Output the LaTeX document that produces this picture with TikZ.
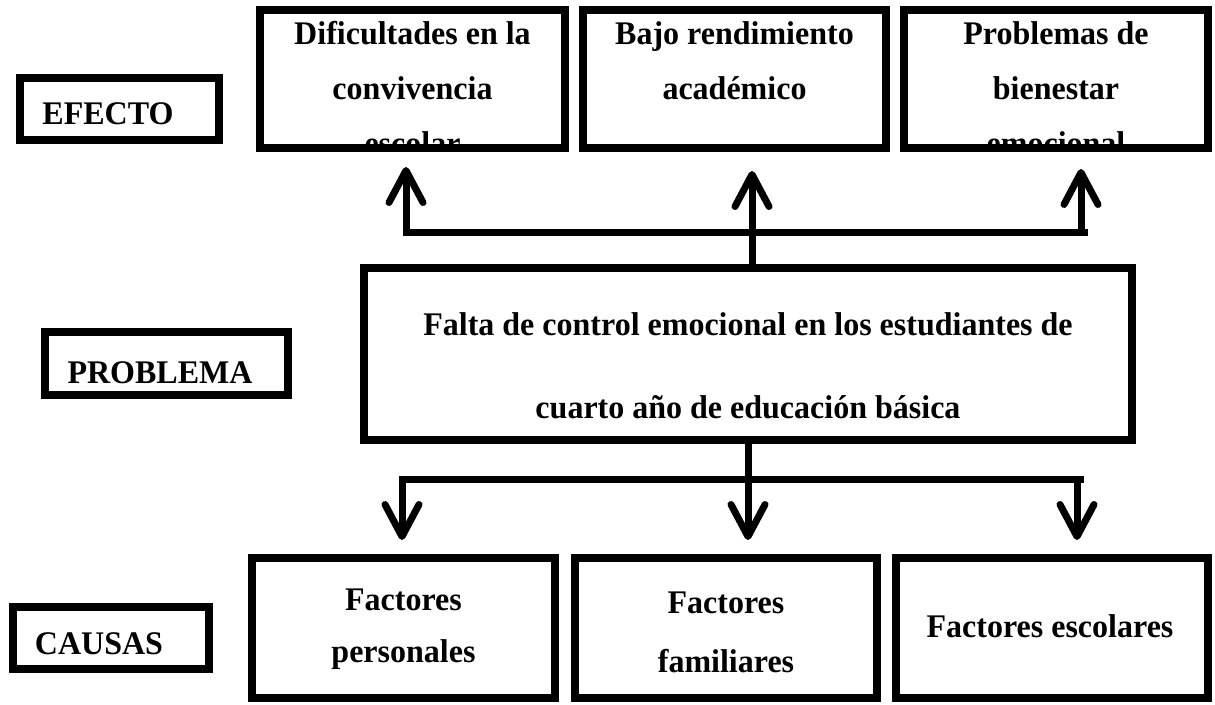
\documentclass[tikz,border=0pt]{standalone}
\usepackage{fontspec}
\setmainfont{Liberation Serif}[FakeStretch=0.97]
\usetikzlibrary{arrows.meta}
\tikzset{
  box/.style={draw, line width=8pt, rectangle, inner sep=0pt},
  txt/.style={font=\bfseries\fontsize{33}{55}\selectfont, align=center, inner sep=0pt},
  conn/.style={line width=7pt},
  arr/.style={conn, -{Straight Barb[length=32pt,width=34pt,round]}}
}
\begin{document}
\begin{tikzpicture}[x=1pt,y=-1pt]
\useasboundingbox (0,0) rectangle (1215,704);
% label boxes
\node[box, minimum width=199pt, minimum height=62pt] (lefecto) at (119.5,109) {};
\node[txt, anchor=base] (tefecto) at (108,124) {EFECTO};
\node[box, minimum width=243pt, minimum height=63pt] (lproblema) at (166.5,363.5) {};
\node[txt, anchor=base] (tproblema) at (160,383) {PROBLEMA};
\node[box, minimum width=196pt, minimum height=62pt] (lcausas) at (111,638) {};
\node[txt, anchor=base] (tcausas) at (99,654) {CAUSAS};
% effect boxes
\node[box, minimum width=305pt, minimum height=138pt] (e1) at (412.5,79) {};
\node[box, minimum width=303pt, minimum height=138pt] (e2) at (734.5,79) {};
\node[box, minimum width=304pt, minimum height=138pt] (e3) at (1056,79) {};
\begin{scope}
\clip (264,14) rectangle (561,144);
\node[txt, anchor=north] (te1) at (412.5,21) {Dificultades en la\\convivencia\\escolar};
\end{scope}
\begin{scope}
\clip (587,14) rectangle (882,144);
\node[txt, anchor=north] (te2) at (734.5,21) {Bajo rendimiento\\académico};
\end{scope}
\begin{scope}
\clip (908,14) rectangle (1204,144);
\node[txt, anchor=north] (te3) at (1056,21) {Problemas de\\bienestar\\emocional};
\end{scope}
% problem box
\node[box, minimum width=768pt, minimum height=172pt] (prob) at (748,354) {};
\node[txt, anchor=north, font=\bfseries\fontsize{33}{83}\selectfont] (tprob) at (748,312)
  {Falta de control emocional en los estudiantes de\\cuarto año de educación básica};
% cause boxes
\node[box, minimum width=303pt, minimum height=140pt] (c1) at (403.5,628) {};
\node[txt, anchor=north, font=\bfseries\fontsize{33}{52}\selectfont] (tc1) at (403.5,589) {Factores\\personales};
\node[box, minimum width=302pt, minimum height=140pt] (c2) at (726,628) {};
\node[txt, anchor=north, font=\bfseries\fontsize{33}{59}\selectfont] (tc2) at (726,592) {Factores\\familiares};
\node[box, minimum width=312pt, minimum height=140pt] (c3) at (1052,628) {};
\node[txt, anchor=base] (tc3) at (1050,637) {Factores escolares};
% top connectors
\coordinate (tbL) at (403,232);
\coordinate (tbR) at (1088,232);
\coordinate (tu1) at (406,167);
\coordinate (tu2) at (752,171);
\coordinate (tu3) at (1081,169);
\draw[conn] (tbL) -- (tbR);
\draw[arr] (tu2 |- prob.north) -- (tu2);
\draw[arr] (tu1 |- tbL) -- (tu1);
\draw[arr] (tu3 |- tbL) -- (tu3);
% bottom connectors
\coordinate (bbL) at (399,479);
\coordinate (bbR) at (1084,479);
\coordinate (bd1) at (402,540);
\coordinate (bd2) at (748,540);
\coordinate (bd3) at (1077,540);
\draw[conn] (bbL) -- (bbR);
\draw[conn] (bd2 |- prob.south) -- (bd2 |- bbL);
\draw[arr] (bd1 |- bbL) -- (bd1);
\draw[arr] (bd2 |- bbL) -- (bd2);
\draw[arr] (bd3 |- bbL) -- (bd3);
\end{tikzpicture}
\end{document}
